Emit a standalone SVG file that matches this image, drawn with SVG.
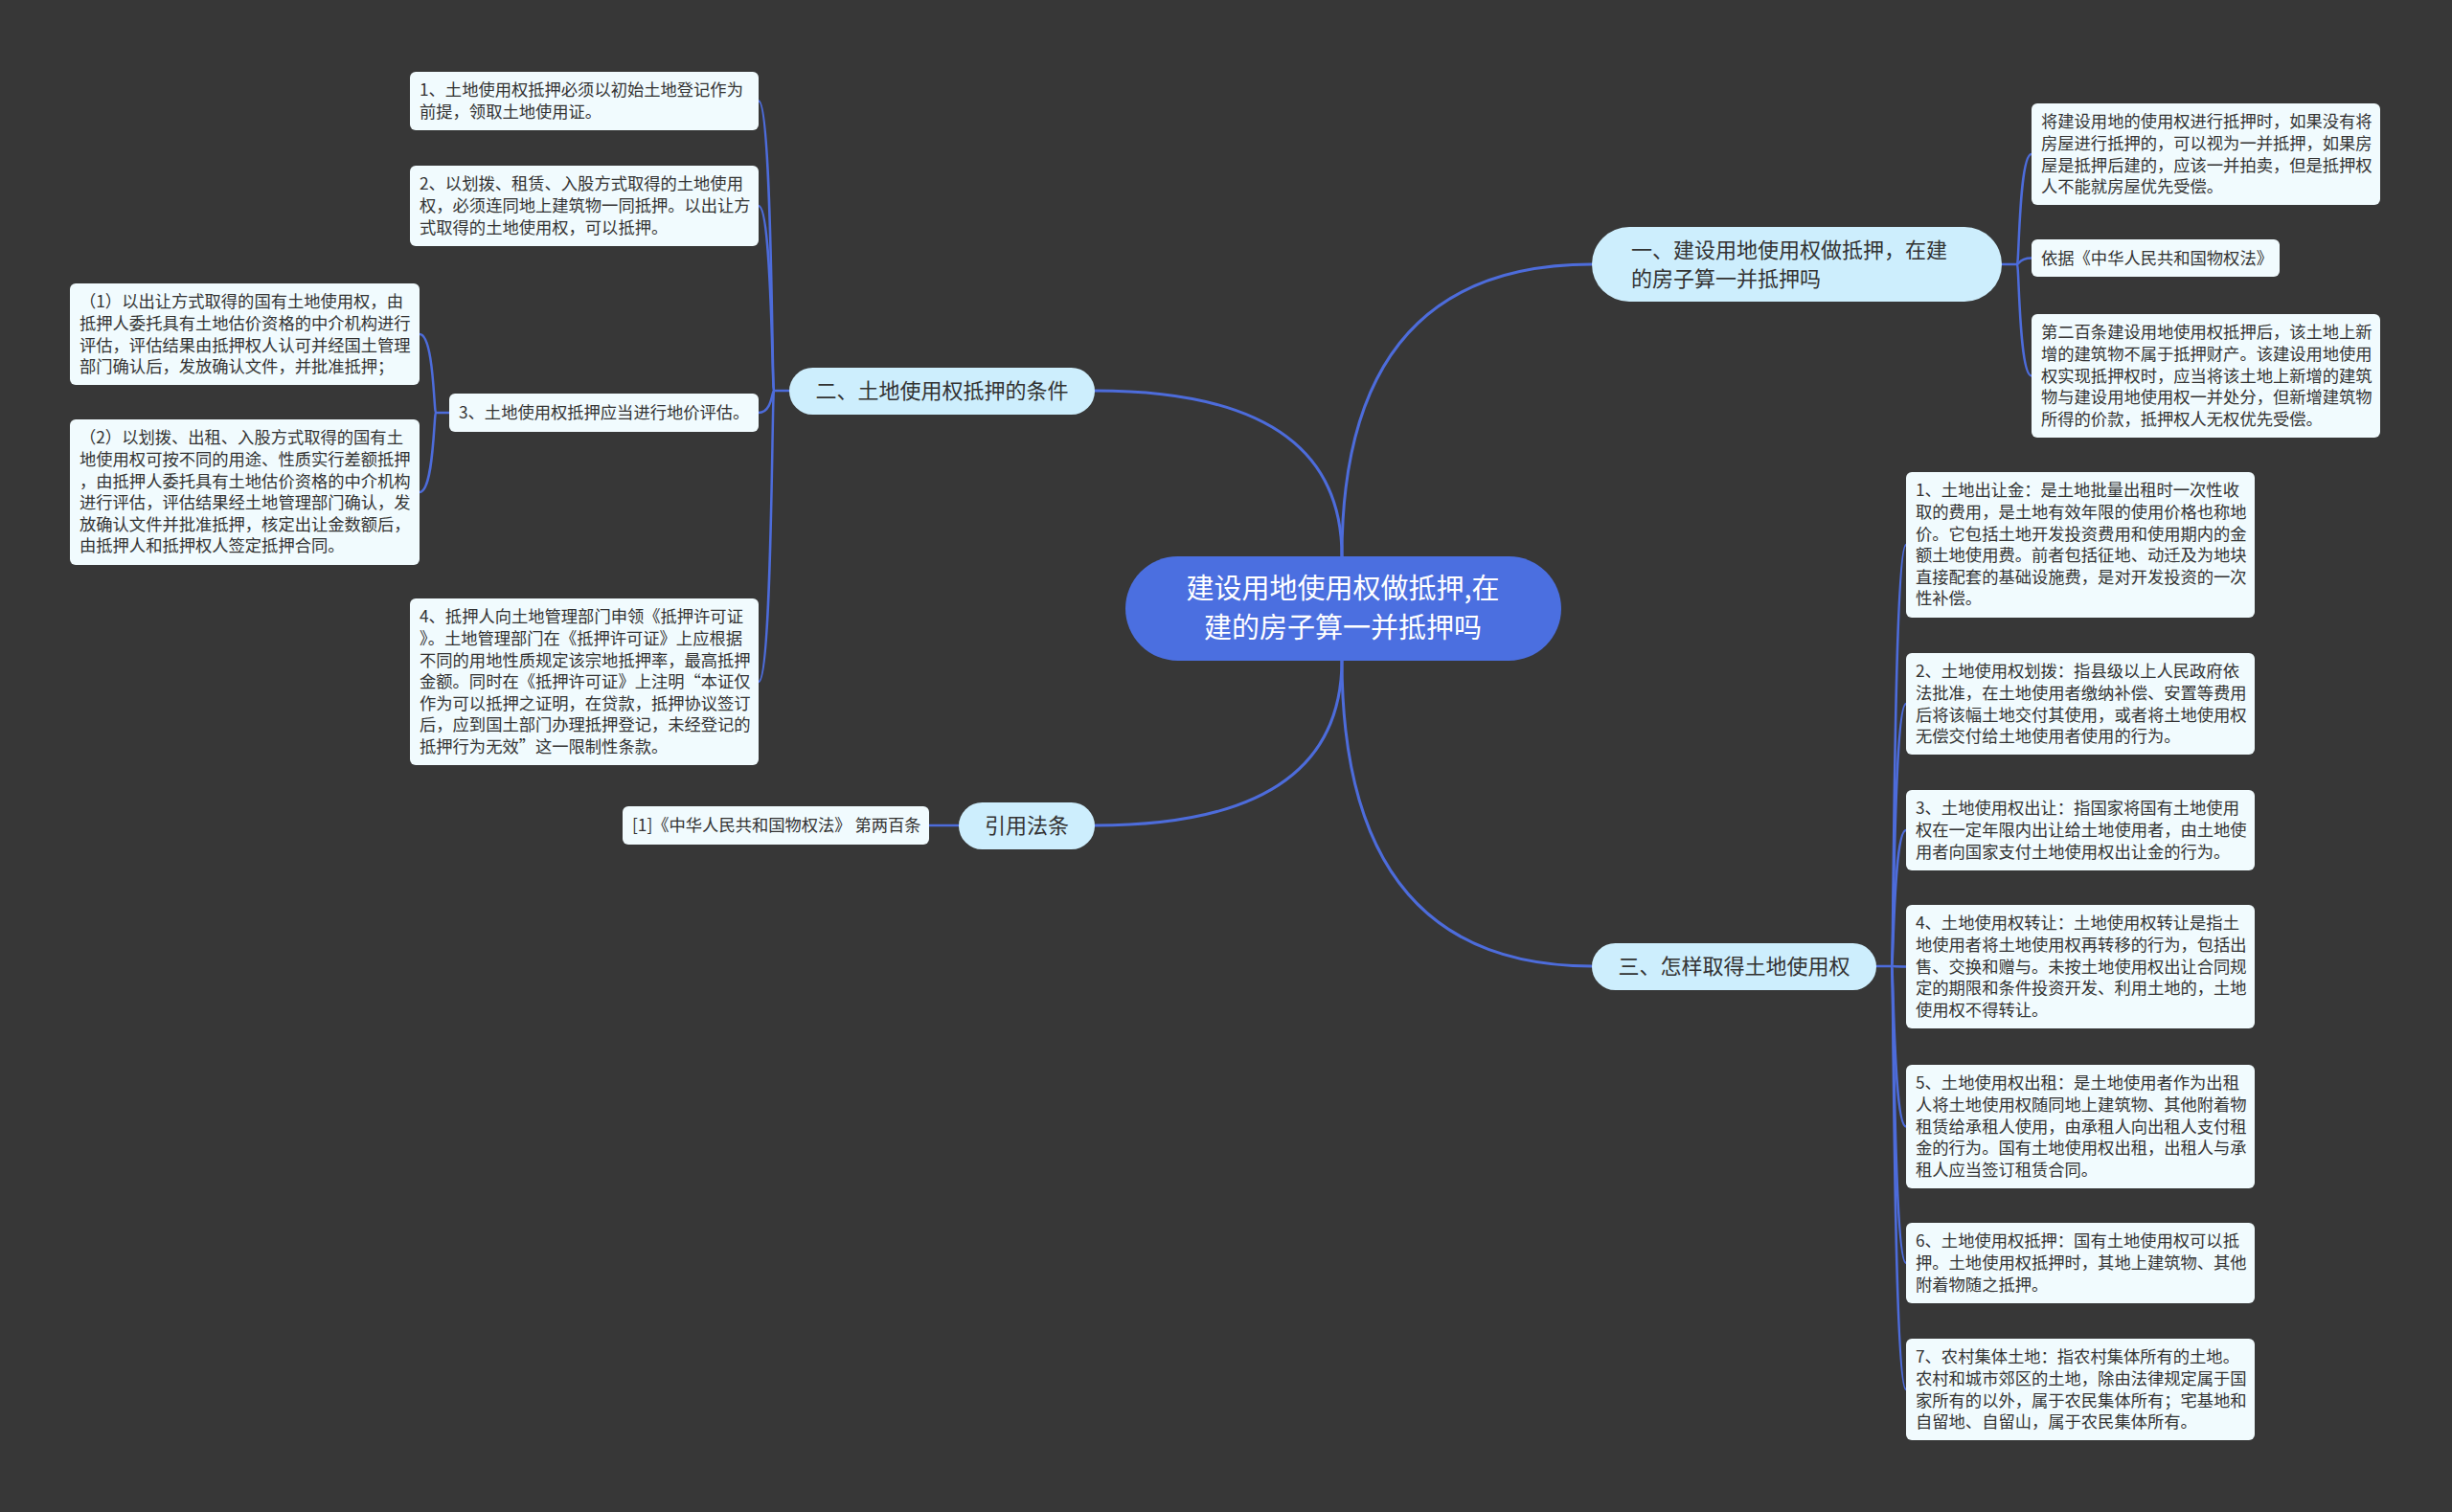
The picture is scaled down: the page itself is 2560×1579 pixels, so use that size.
<svg xmlns="http://www.w3.org/2000/svg" width="2560" height="1579" viewBox="0 0 2560 1579">
<style>
.bg{fill:#373737}
.ln{fill:none;stroke:#4d6cdb;stroke-width:3;stroke-linecap:round}
.br{fill:none;stroke:#4d6cdb;stroke-width:2.5;stroke-linecap:round}
.root rect{fill:#4b6fe0}
.root text{fill:#ffffff;font-family:"Noto Sans CJK SC","Liberation Sans",sans-serif;font-size:29px;text-anchor:middle}
.main rect{fill:#cdeefd}
.main text{fill:#333333;font-family:"Noto Sans CJK SC","Liberation Sans",sans-serif;font-size:22px}
.leaf rect{fill:#f1fbfe}
.leaf text{fill:#333333;font-family:"Noto Sans CJK SC","Liberation Sans",sans-serif;font-size:17.3px}
</style>
<rect class="bg" x="0" y="0" width="2560" height="1579"/>

<g id="connectors">
<path class="ln" d="M1401,581 Q1401,276 1662,276"/>
<path class="ln" d="M1401,581 Q1401,408 1143,408"/>
<path class="ln" d="M1401,689 Q1401,862 1143,862"/>
<path class="ln" d="M1401,689 Q1401,1009 1662,1009"/>
<path class="br" d="M2090,276 L2106,276 C2108,276 2108,161 2121,161"/>
<path class="br" d="M2106,276 C2108,276 2108,269.5 2121,269.5"/>
<path class="br" d="M2106,276 C2108,276 2108,392.5 2121,392.5"/>
<path class="br" d="M824,408 L808,408 C806,408 806,105.5 792,105.5"/>
<path class="br" d="M808,408 C806,408 806,215 792,215"/>
<path class="br" d="M808,408 C806,408 806,431 792,431"/>
<path class="br" d="M808,408 C806,408 806,712 792,712"/>
<path class="br" d="M469,431 L455,431 C453,431 453,349 438,349"/>
<path class="br" d="M455,431 C453,431 453,514 438,514"/>
<path class="br" d="M1001,862 L970,862"/>
<path class="br" d="M1959,1009 L1975,1009 C1977,1009 1977,569 1990,569"/>
<path class="br" d="M1975,1009 C1977,1009 1977,735 1990,735"/>
<path class="br" d="M1975,1009 C1977,1009 1977,867 1990,867"/>
<path class="br" d="M1975,1009 C1977,1009 1977,1009.5 1990,1009.5"/>
<path class="br" d="M1975,1009 C1977,1009 1977,1176.5 1990,1176.5"/>
<path class="br" d="M1975,1009 C1977,1009 1977,1319 1990,1319"/>
<path class="br" d="M1975,1009 C1977,1009 1977,1451 1990,1451"/>
</g>

<g id="root" class="root">
<rect x="1175" y="581" width="455" height="109" rx="54.5"/>
<text x="1402" y="625">建设用地使用权做抵押,在</text>
<text x="1402" y="666">建的房子算一并抵押吗</text>
</g>

<g id="n1" class="main">
<rect x="1662" y="237" width="428" height="78" rx="39"/>
<text x="1703" y="269">一、建设用地使用权做抵押，在建</text>
<text x="1703" y="299">的房子算一并抵押吗</text>
</g>
<g id="n2" class="main">
<rect x="824" y="384" width="319" height="49" rx="24.5"/>
<text x="983.5" y="416" text-anchor="middle">二、土地使用权抵押的条件</text>
</g>
<g id="n3" class="main">
<rect x="1662" y="985" width="297" height="49" rx="24.5"/>
<text x="1810.5" y="1017" text-anchor="middle">三、怎样取得土地使用权</text>
</g>
<g id="n4" class="main">
<rect x="1001" y="838" width="142" height="49" rx="24.5"/>
<text x="1072" y="870" text-anchor="middle">引用法条</text>
</g>

<g id="r1" class="leaf">
<rect x="2121" y="108" width="364" height="106" rx="6"/>
<text x="2131" y="133.3">将建设用地的使用权进行抵押时，如果没有将<tspan x="2131" dy="22.6">房屋进行抵押的，可以视为一并抵押，如果房</tspan><tspan x="2131" dy="22.6">屋是抵押后建的，应该一并拍卖，但是抵押权</tspan><tspan x="2131" dy="22.6">人不能就房屋优先受偿。</tspan></text>
</g>
<g id="r2" class="leaf">
<rect x="2121" y="250" width="259" height="39" rx="6"/>
<text x="2131" y="275.5">依据《中华人民共和国物权法》</text>
</g>
<g id="r3" class="leaf">
<rect x="2121" y="328" width="364" height="129" rx="6"/>
<text x="2131" y="353.3">第二百条建设用地使用权抵押后，该土地上新<tspan x="2131" dy="22.6">增的建筑物不属于抵押财产。该建设用地使用</tspan><tspan x="2131" dy="22.6">权实现抵押权时，应当将该土地上新增的建筑</tspan><tspan x="2131" dy="22.6">物与建设用地使用权一并处分，但新增建筑物</tspan><tspan x="2131" dy="22.6">所得的价款，抵押权人无权优先受偿。</tspan></text>
</g>

<g id="l1" class="leaf">
<rect x="428" y="75" width="364" height="61" rx="6"/>
<text x="438" y="100.3">1、土地使用权抵押必须以初始土地登记作为<tspan x="438" dy="22.6">前提，领取土地使用证。</tspan></text>
</g>
<g id="l2" class="leaf">
<rect x="428" y="173" width="364" height="84" rx="6"/>
<text x="438" y="198.3">2、以划拨、租赁、入股方式取得的土地使用<tspan x="438" dy="22.6">权，必须连同地上建筑物一同抵押。以出让方</tspan><tspan x="438" dy="22.6">式取得的土地使用权，可以抵押。</tspan></text>
</g>
<g id="l3" class="leaf">
<rect x="469" y="411" width="323" height="40" rx="6"/>
<text x="479" y="437">3、土地使用权抵押应当进行地价评估。</text>
</g>
<g id="l3a" class="leaf">
<rect x="73" y="296" width="365" height="106" rx="6"/>
<text x="83" y="321.3">（1）以出让方式取得的国有土地使用权，由<tspan x="83" dy="22.6">抵押人委托具有土地估价资格的中介机构进行</tspan><tspan x="83" dy="22.6">评估，评估结果由抵押权人认可并经国土管理</tspan><tspan x="83" dy="22.6">部门确认后，发放确认文件，并批准抵押；</tspan></text>
</g>
<g id="l3b" class="leaf">
<rect x="73" y="438" width="365" height="152" rx="6"/>
<text x="83" y="463.3">（2）以划拨、出租、入股方式取得的国有土<tspan x="83" dy="22.6">地使用权可按不同的用途、性质实行差额抵押</tspan><tspan x="83" dy="22.6">，由抵押人委托具有土地估价资格的中介机构</tspan><tspan x="83" dy="22.6">进行评估，评估结果经土地管理部门确认，发</tspan><tspan x="83" dy="22.6">放确认文件并批准抵押，核定出让金数额后，</tspan><tspan x="83" dy="22.6">由抵押人和抵押权人签定抵押合同。</tspan></text>
</g>
<g id="l4" class="leaf">
<rect x="428" y="625" width="364" height="174" rx="6"/>
<text x="438" y="650.3">4、抵押人向土地管理部门申领《抵押许可证<tspan x="438" dy="22.6">》。土地管理部门在《抵押许可证》上应根据</tspan><tspan x="438" dy="22.6">不同的用地性质规定该宗地抵押率，最高抵押</tspan><tspan x="438" dy="22.6">金额。同时在《抵押许可证》上注明“本证仅</tspan><tspan x="438" dy="22.6">作为可以抵押之证明，在贷款，抵押协议签订</tspan><tspan x="438" dy="22.6">后，应到国土部门办理抵押登记，未经登记的</tspan><tspan x="438" dy="22.6">抵押行为无效”这一限制性条款。</tspan></text>
</g>
<g id="c1" class="leaf">
<rect x="650" y="842" width="320" height="40" rx="6"/>
<text x="660" y="868">[1]《中华人民共和国物权法》 第两百条</text>
</g>

<g id="t1" class="leaf">
<rect x="1990" y="493" width="364" height="152" rx="6"/>
<text x="2000" y="518.3">1、土地出让金：是土地批量出租时一次性收<tspan x="2000" dy="22.6">取的费用，是土地有效年限的使用价格也称地</tspan><tspan x="2000" dy="22.6">价。它包括土地开发投资费用和使用期内的金</tspan><tspan x="2000" dy="22.6">额土地使用费。前者包括征地、动迁及为地块</tspan><tspan x="2000" dy="22.6">直接配套的基础设施费，是对开发投资的一次</tspan><tspan x="2000" dy="22.6">性补偿。</tspan></text>
</g>
<g id="t2" class="leaf">
<rect x="1990" y="682" width="364" height="106" rx="6"/>
<text x="2000" y="707.3">2、土地使用权划拨：指县级以上人民政府依<tspan x="2000" dy="22.6">法批准，在土地使用者缴纳补偿、安置等费用</tspan><tspan x="2000" dy="22.6">后将该幅土地交付其使用，或者将土地使用权</tspan><tspan x="2000" dy="22.6">无偿交付给土地使用者使用的行为。</tspan></text>
</g>
<g id="t3" class="leaf">
<rect x="1990" y="825" width="364" height="84" rx="6"/>
<text x="2000" y="850.3">3、土地使用权出让：指国家将国有土地使用<tspan x="2000" dy="22.6">权在一定年限内出让给土地使用者，由土地使</tspan><tspan x="2000" dy="22.6">用者向国家支付土地使用权出让金的行为。</tspan></text>
</g>
<g id="t4" class="leaf">
<rect x="1990" y="945" width="364" height="129" rx="6"/>
<text x="2000" y="970.3">4、土地使用权转让：土地使用权转让是指土<tspan x="2000" dy="22.6">地使用者将土地使用权再转移的行为，包括出</tspan><tspan x="2000" dy="22.6">售、交换和赠与。未按土地使用权出让合同规</tspan><tspan x="2000" dy="22.6">定的期限和条件投资开发、利用土地的，土地</tspan><tspan x="2000" dy="22.6">使用权不得转让。</tspan></text>
</g>
<g id="t5" class="leaf">
<rect x="1990" y="1112" width="364" height="129" rx="6"/>
<text x="2000" y="1137.3">5、土地使用权出租：是土地使用者作为出租<tspan x="2000" dy="22.6">人将土地使用权随同地上建筑物、其他附着物</tspan><tspan x="2000" dy="22.6">租赁给承租人使用，由承租人向出租人支付租</tspan><tspan x="2000" dy="22.6">金的行为。国有土地使用权出租，出租人与承</tspan><tspan x="2000" dy="22.6">租人应当签订租赁合同。</tspan></text>
</g>
<g id="t6" class="leaf">
<rect x="1990" y="1277" width="364" height="84" rx="6"/>
<text x="2000" y="1302.3">6、土地使用权抵押：国有土地使用权可以抵<tspan x="2000" dy="22.6">押。土地使用权抵押时，其地上建筑物、其他</tspan><tspan x="2000" dy="22.6">附着物随之抵押。</tspan></text>
</g>
<g id="t7" class="leaf">
<rect x="1990" y="1398" width="364" height="106" rx="6"/>
<text x="2000" y="1423.3">7、农村集体土地：指农村集体所有的土地。<tspan x="2000" dy="22.6">农村和城市郊区的土地，除由法律规定属于国</tspan><tspan x="2000" dy="22.6">家所有的以外，属于农民集体所有；宅基地和</tspan><tspan x="2000" dy="22.6">自留地、自留山，属于农民集体所有。</tspan></text>
</g>
</svg>
